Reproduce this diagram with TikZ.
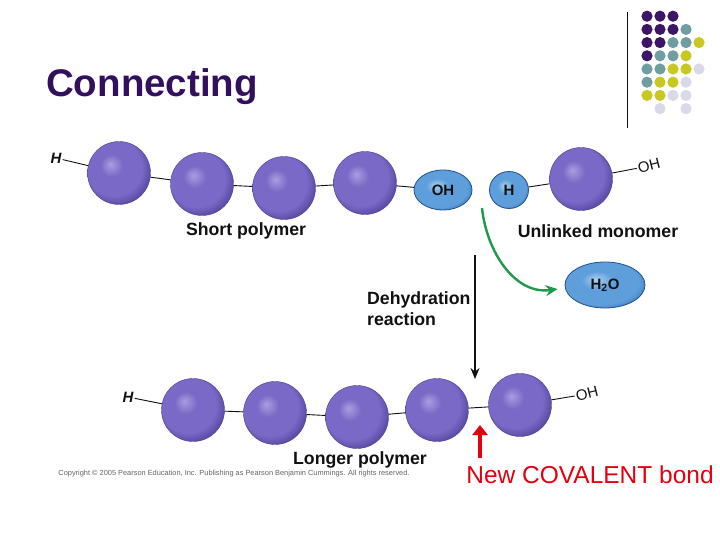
\documentclass[tikz,border=0pt]{standalone}
\usepackage{fontspec}
\setmainfont{Liberation Sans}
\usepackage{xcolor}
\definecolor{ink}{HTML}{111111}
\definecolor{headline}{HTML}{33105E}
\definecolor{orbhi}{HTML}{A99EE0}
\definecolor{orbmid}{HTML}{7A69C6}
\definecolor{orbedge}{HTML}{5E4DA8}
\definecolor{drophi}{HTML}{AAD1F2}
\definecolor{dropmid}{HTML}{5E9FDB}
\definecolor{dropedge}{HTML}{3F7EC4}
\definecolor{dropline}{HTML}{24508F}
\definecolor{leaf}{HTML}{1E9A4C}
\definecolor{bondred}{HTML}{E3000F}
\definecolor{dotP}{HTML}{3D1566}
\definecolor{dotT}{HTML}{6E9EA1}
\definecolor{dotY}{HTML}{C9C721}
\definecolor{dotL}{HTML}{D9D9EA}
\usepackage{tikz}
\usetikzlibrary{arrows.meta, shapes.geometric}
\pgfdeclareradialshading{orb}{\pgfpoint{-7bp}{7bp}}{color(0bp)=(orbhi); color(9bp)=(orbmid); color(22bp)=(orbmid); color(28bp)=(orbedge); color(50bp)=(orbedge)}
\pgfdeclareradialshading{drop}{\pgfpoint{-6bp}{6bp}}{color(0bp)=(drophi); color(10bp)=(dropmid); color(24bp)=(dropmid); color(30bp)=(dropedge); color(50bp)=(dropedge)}
\tikzset{
  sphere/.style={circle, shading=orb, draw=orbedge!85!black, line width=0.4pt, minimum size=63pt, inner sep=0pt},
  drop/.style={ellipse, shading=drop, draw=dropline, line width=0.8pt, inner sep=0pt, text=ink,
    font=\fontsize{15}{15}\selectfont\bfseries},
  atom/.style={font=\fontsize{15}{15}\selectfont, text=ink, inner sep=1pt},
  lbl/.style={font=\fontsize{17.7}{21}\selectfont\bfseries, text=ink, inner sep=0pt},
  bond/.style={line width=0.9pt, color=ink},
}
\begin{document}
\begin{tikzpicture}[x=1pt, y=-1pt,
    react/.style={-{Stealth[length=11pt, width=9pt]}, line width=1.6pt, color=ink},
    leafarr/.style={-{Stealth[length=12pt, width=11pt]}, line width=2.4pt, color=leaf},
    newbond/.style={-{Triangle[length=10pt, width=15pt]}, line width=4.5pt, color=bondred}]
  \useasboundingbox[fill=white] (0,0) rectangle (720,540);
  % title and corner dots
  \node[anchor=base west, inner sep=0pt, font=\fontsize{38.5}{38.5}\selectfont\bfseries, text=headline] (ttl) at (46,97) {Connecting};
  \draw[line width=1pt, ink] (627,12) -- (627,128);
  \foreach \r/\row in {1/{dotP,dotP,dotP}, 2/{dotP,dotP,dotP,dotT}, 3/{dotP,dotP,dotT,dotT,dotY},
      4/{dotP,dotT,dotT,dotY}, 5/{dotT,dotT,dotY,dotY,dotL}, 6/{dotT,dotY,dotY,dotL},
      7/{dotY,dotY,dotL,dotL}} {
    \foreach \c [count=\k] in \row
      \fill[\c] (634+13*\k, 3+13.2*\r) circle (5.6);
  }
  \foreach \k in {2,4} \fill[dotL] (634+13*\k, 3+13.2*8) circle (5.6);
  % short polymer + unlinked monomer
  \node[atom] (hT) at (56,158) {\bfseries\itshape H};
  \node[sphere] (s1) at (119,173) {};
  \node[sphere] (s2) at (202,184) {};
  \node[sphere] (s3) at (284,188) {};
  \node[sphere] (s4) at (365,183) {};
  \node[drop, minimum width=58pt, minimum height=40pt] (ohD) at (443,190) {OH};
  \node[drop, minimum width=39pt, minimum height=37pt] (hD) at (509,190) {H};
  \node[sphere] (m1) at (581,179) {};
  \node[atom, rotate=14] (ohT) at (649,166) {OH};
  \draw[bond] (hT) -- (s1);
  \draw[bond] (s1) -- (s2); \draw[bond] (s2) -- (s3); \draw[bond] (s3) -- (s4);
  \draw[bond] (s4) -- (ohD);
  \draw[bond] (hD) -- (m1); \draw[bond] (m1) -- (ohT);
  \node[lbl] (short) at (246,231) {Short polymer};
  \node[lbl] (unlinked) at (598,231) {Unlinked monomer};
  % water leaves, chain joins
  \node[drop, minimum width=80pt, minimum height=46pt] (water) at (605,285) {H\textsubscript{2}O};
  \coordinate (gfrom) at (482,208);
  \draw[leafarr] (gfrom) to[out=-84, in=188] ([xshift=-7pt, yshift=-4pt]water.west);
  \coordinate (rtop) at (475,255);
  \coordinate (rbot) at (475,379);
  \draw[react] (rtop) -- (rbot);
  \node[lbl, align=left, anchor=north west] (dehy) at (367,291) {Dehydration\\reaction};
  % longer polymer
  \node[atom] (hB) at (128,397) {\bfseries\itshape H};
  \node[sphere] (l1) at (193,410) {};
  \node[sphere] (l2) at (275,413) {};
  \node[sphere] (l3) at (357,417) {};
  \node[sphere] (l4) at (437,410) {};
  \node[sphere] (l5) at (520,405) {};
  \node[atom, rotate=14] (ohB) at (587,394) {OH};
  \draw[bond] (hB) -- (l1);
  \foreach \a/\b in {l1/l2, l2/l3, l3/l4, l4/l5} \draw[bond] (\a) -- (\b);
  \draw[bond] (l5) -- (ohB);
  \node[lbl] (longer) at (360,460) {Longer polymer};
  \node[font=\fontsize{7.4}{7.4}\selectfont, text=ink!65, inner sep=0pt] (copy) at (234,474)
    {Copyright © 2005 Pearson Education, Inc. Publishing as Pearson Benjamin Cummings. All rights reserved.};
  % new bond marker
  \coordinate (rfrom) at (480,458);
  \coordinate (rto) at (480,425);
  \draw[newbond] (rfrom) -- (rto);
  \node[font=\fontsize{24.5}{24.5}\selectfont, text=bondred, inner sep=0pt] (covalent) at (590,475) {New COVALENT bond};
\end{tikzpicture}
\end{document}
